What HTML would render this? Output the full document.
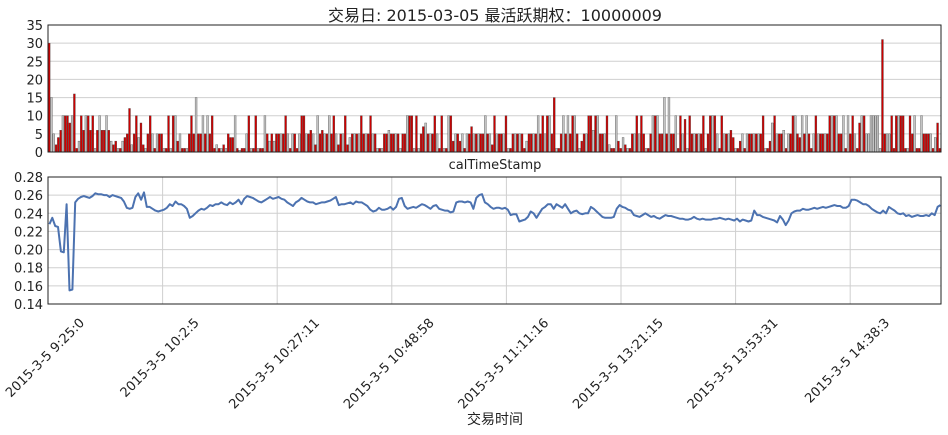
<!DOCTYPE html>
<html><head><meta charset="utf-8">
<style>
html,body{margin:0;padding:0;background:#fff;}
svg{display:block;font-family:"DejaVu Sans","Liberation Sans","Noto Sans CJK SC",sans-serif;}
</style></head>
<body>
<svg id="chart" width="948" height="435" viewBox="0 0 948 435">
<text x="495" y="21" font-size="16" text-anchor="middle" fill="#222">交易日: 2015-03-05 最活跃期权：10000009</text>
<text x="495" y="169" font-size="13" text-anchor="middle" fill="#222">calTimeStamp</text>
<text x="495" y="424" font-size="14" text-anchor="middle" fill="#222">交易时间</text>
<g id="topPanel"></g>
<g id="botPanel"></g>
</svg>
<script>
const barValues = [30,15,5,2,4,6,10,10,10,8,10,16,1,3,10,6,10,10,6,10,1,6,10,6,6,10,6,3,2,3,1,1,3,4,5,12,2,5,10,4,8,2,1,5,10,5,1,5,5,5,1,1,10,1,10,10,3,5,1,1,1,5,10,5,15,5,5,10,5,10,5,10,1,2,1,1,2,1,5,4,4,10,1,0.5,1,1,5,10,1,1,10,1,1,1,10,5,3,5,
3,5,5,5,5,10,5,1,5,5,1,5,10,10,5,5,6,5,2,10,5,6,5,5,10,5,10,5,2,5,5,10,2,4,5,5,5,5,10,5,5,5,10,5,5,1,1,1,5,5,6,5,5,5,5,1,5,5,10,10,10,1,10,1,5,7,8,5,5,5,10,5,1,10,1,1,10,10,3,5,5,3,5,1,5,5,7,5,5,5,5,5,10,5,5,2,10,5,5,5,
5,10,1,1,5,5,5,5,5,1,3,5,5,5,5,10,5,10,5,10,10,5,15,1,1,5,10,5,10,5,10,10,5,1,3,5,5,10,10,6,10,10,5,5,5,10,2,1,1,10,3,1,4,2,1,1,5,5,10,5,10,5,1,1,5,10,10,10,5,5,15,5,15,5,5,10,1,10,5,9,1,10,5,5,5,5,5,10,1,5,10,10,10,5,1,10,
5,5,5,6,4,1,1,3,5,1,5,5,5,5,5,5,5,10,1,1,3,8,10,5,5,5,6,1,5,5,10,10,5,4,10,5,10,5,1,5,10,5,5,5,5,5,10,10,10,10,5,5,10,1,10,5,10,5,1,8,10,10,5,5,10,10,10,10,1,31,5,5,5,10,1,10,10,10,10,1,1,10,5,10,1,1,10,5,5,5,5,1,4,8,1];
const barColors = "rggrrrgrrrgrrgrrgrrrgrgrrgrgrrgrgrrrgrrgrrgrrgrgrrgrrgrgrgrrgrrrgrrgrgrrrgrgrgrrrgrgrrgrgrrgrrgrgrgrrgrrgrgrrgrrgrrgrgrrgrgrrgrrgrrgrgrgrrgrrgrgrgrrgrrgrgrrgrrgrgrrgrgrrgrrgrgrrgrrgrgrrgrgrrgrgrrgrrgrgrrgrgrrgrrgrgrrgrgrrgrrgrgrrgrgrrgrrgrgrrgrgrrgrrgrgrrgrgrrgrrgrgrrgrgrrgrrgrgrrgrgrrgrrgrgrrgrgrrgrrgrgrrgrgrrgrrgrgrrgrgrrgrrgrgrrgrgrrgrrgrgrrgrgrrgrrgrg".split('');
barColors[barValues.indexOf(31)]='r';
const priceValues = [0.228,0.235,0.226,0.225,0.198,0.197,0.25,0.155,0.156,0.252,
0.256,0.258,0.259,0.258,0.257,0.259,0.262,0.261,0.261,0.26,
0.26,0.258,0.26,0.259,0.258,0.257,0.253,0.246,0.245,0.246,
0.258,0.262,0.255,0.263,0.247,0.247,0.245,0.243,0.242,0.243,
0.244,0.246,0.25,0.248,0.253,0.25,0.25,0.248,0.245,0.235,
0.237,0.24,0.243,0.245,0.244,0.246,0.249,0.248,0.25,0.25,
0.252,0.25,0.249,0.252,0.25,0.252,0.255,0.25,0.256,0.259,
0.258,0.257,0.255,0.253,0.252,0.254,0.256,0.258,0.256,0.257,
0.258,0.256,0.255,0.252,0.25,0.248,0.252,0.254,0.257,0.255,
0.253,0.252,0.252,0.25,0.251,0.252,0.252,0.253,0.254,0.256,
0.258,0.249,0.25,0.25,0.251,0.252,0.25,0.253,0.252,0.252,
0.25,0.248,0.244,0.242,0.243,0.246,0.244,0.244,0.245,0.247,
0.244,0.247,0.256,0.257,0.248,0.245,0.246,0.247,0.246,0.248,
0.25,0.249,0.247,0.245,0.248,0.249,0.245,0.244,0.243,0.243,
0.241,0.242,0.252,0.253,0.253,0.252,0.253,0.252,0.245,0.257,
0.26,0.261,0.252,0.25,0.247,0.245,0.246,0.246,0.245,0.246,
0.244,0.238,0.239,0.239,0.231,0.232,0.233,0.236,0.242,0.24,
0.235,0.24,0.245,0.247,0.25,0.25,0.245,0.25,0.248,0.246,
0.25,0.245,0.24,0.242,0.243,0.24,0.239,0.24,0.24,0.247,
0.245,0.242,0.239,0.236,0.235,0.235,0.235,0.236,0.245,0.249,
0.247,0.246,0.244,0.243,0.238,0.237,0.236,0.238,0.24,0.238,
0.236,0.237,0.235,0.234,0.236,0.238,0.237,0.237,0.236,0.235,
0.234,0.234,0.233,0.233,0.234,0.236,0.234,0.233,0.234,0.233,
0.233,0.233,0.234,0.234,0.235,0.234,0.233,0.234,0.233,0.232,
0.234,0.231,0.233,0.232,0.231,0.232,0.243,0.238,0.238,0.236,
0.235,0.234,0.233,0.232,0.23,0.237,0.233,0.227,0.232,0.24,
0.242,0.243,0.243,0.245,0.244,0.244,0.245,0.246,0.245,0.246,
0.247,0.246,0.247,0.248,0.249,0.248,0.248,0.246,0.246,0.248,
0.255,0.255,0.254,0.252,0.25,0.25,0.248,0.245,0.243,0.241,
0.24,0.243,0.24,0.247,0.245,0.243,0.24,0.239,0.24,0.237,
0.238,0.236,0.237,0.238,0.237,0.237,0.238,0.237,0.24,0.238,
0.247,0.249];
const topTicks = [0,5,10,15,20,25,30,35];
const botTicks = [0.14,0.16,0.18,0.20,0.22,0.24,0.26,0.28];
const timeLabels = ["2015-3-5 9:25:0","2015-3-5 10:2:5","2015-3-5 10:27:11","2015-3-5 10:48:58","2015-3-5 11:11:16","2015-3-5 13:21:15","2015-3-5 13:53:31","2015-3-5 14:38:3"];
const labelStep = 40;

const NS="http://www.w3.org/2000/svg";
const L=48,R=941,T1=25,B1=152,T2=177,B2=304;
function mk(tag,attrs,parent){const e=document.createElementNS(NS,tag);for(const k in attrs)e.setAttribute(k,attrs[k]);parent.appendChild(e);return e;}
const topG=document.getElementById('topPanel'), botG=document.getElementById('botPanel'), svgEl=document.getElementById('chart');
const y1=v=>B1-(v-0)/35*(B1-T1);
const y2=v=>B2-(v-0.14)/0.14*(B2-T2);
const nb=barValues.length, bp=(R-L)/nb;
const xb=i=>L+(i+0.5)*bp;
const np=priceValues.length, pp=(R-L)/(np-0.3);
const xp=i=>L+(i+0.5)*pp;
const xTick=k=>L+k*labelStep*pp;

topTicks.forEach(t=>{
  const g=mk('line',{x1:L,x2:R,y1:y1(t),y2:y1(t),stroke:'#cfcfcf','stroke-width':1},topG);
  
  
  const tx=mk('text',{x:L-5,y:y1(t)+5,'font-size':13,'text-anchor':'end',fill:'#222'},topG);
  tx.textContent=t;
  
  
});
barValues.forEach((v,i)=>{
  const c=barColors[i%barColors.length]==='r'?'#cc0000':'#c4c4c4';
  const h=Math.max(B1-y1(v),0.5);
  const r=mk('rect',{x:xb(i)-bp*0.42,y:B1-h,width:bp*0.84,height:h,fill:c,stroke:'#444','stroke-width':0.35},topG);
  
  
});
const f1=mk('rect',{x:L,y:T1,width:R-L,height:B1-T1,fill:'none',stroke:'#222','stroke-width':1},topG);



botTicks.forEach(t=>{
  const g=mk('line',{x1:L,x2:R,y1:y2(t),y2:y2(t),stroke:'#cfcfcf','stroke-width':1},botG);
  
  
  const tx=mk('text',{x:L-5,y:y2(t)+5,'font-size':13,'text-anchor':'end',fill:'#222'},botG);
  tx.textContent=t.toFixed(2);
  
  
});
timeLabels.forEach((lab,k)=>{
  const x=xTick(k);
  const g=mk('line',{x1:x,x2:x,y1:T2,y2:B2,stroke:'#cfcfcf','stroke-width':1},botG);
  
  
  const tx=mk('text',{'font-size':13,'text-anchor':'middle',fill:'#222'},svgEl);
  tx.textContent=lab;
  
  
  const len=tx.getComputedTextLength();
  const cy=315+(len*0.707+13*0.707)/2;
  tx.setAttribute('transform','translate('+x+','+(cy+4)+') rotate(-45)');
});
let d='';
priceValues.forEach((v,i)=>{d+=(i?'L':'M')+xp(i).toFixed(1)+','+y2(v).toFixed(1);});
const line=mk('path',{d:d,fill:'none',stroke:'#4c72b0','stroke-width':2,'stroke-linejoin':'round'},botG);


const f2=mk('rect',{x:L,y:T2,width:R-L,height:B2-T2,fill:'none',stroke:'#222','stroke-width':1},botG);


</script>
</body></html>
